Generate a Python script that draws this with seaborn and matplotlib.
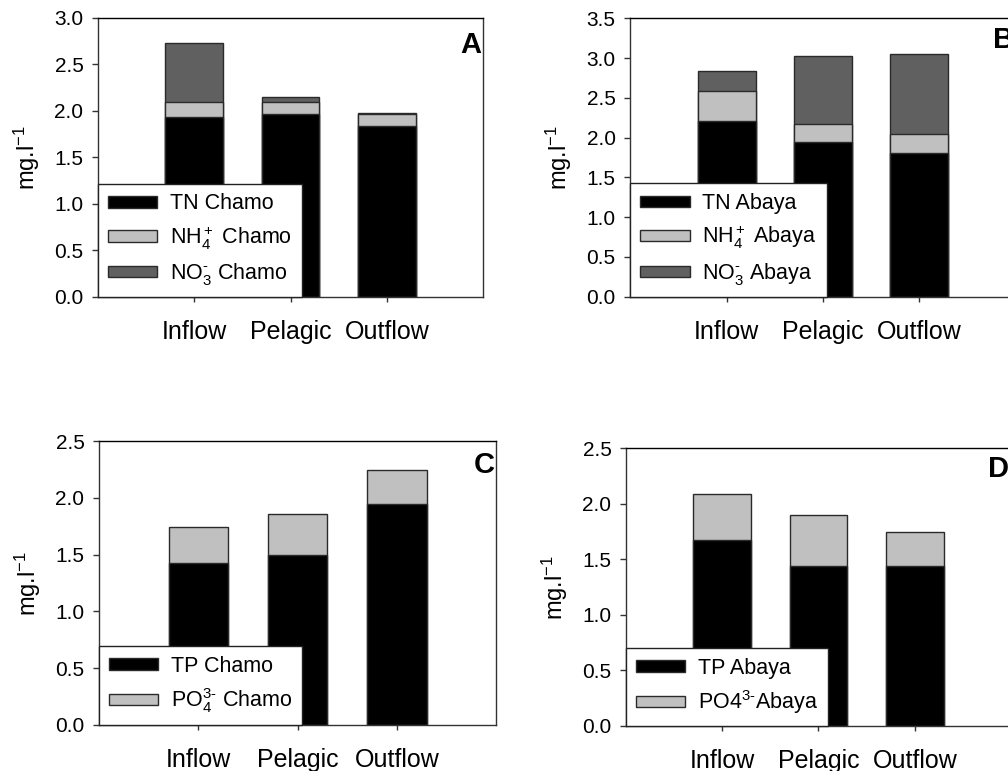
import matplotlib
matplotlib.use("Agg")
import matplotlib.pyplot as plt
from matplotlib.patches import Patch
import seaborn as sns

# Sampling sites along the lake transect
sites = ["Inflow", "Pelagic", "Outflow"]

# Nitrogen fractions (mg/l), Lake Chamo
tn_chamo = [1.94, 1.97, 1.84]
nh4_chamo = [0.16, 0.13, 0.125]
no3_chamo = [0.63, 0.05, 0.015]

# Nitrogen fractions (mg/l), Lake Abaya
tn_abaya = [2.21, 1.94, 1.81]
nh4_abaya = [0.38, 0.225, 0.23]
no3_abaya = [0.245, 0.855, 1.01]

# Phosphorus fractions (mg/l)
tp_chamo = [1.425, 1.495, 1.95]
po4_chamo = [0.317, 0.367, 0.30]
tp_abaya = [1.674, 1.44, 1.44]
po4_abaya = [0.41, 0.456, 0.303]

sns.set_style("ticks")
plt.rcParams["font.family"] = ["Liberation Sans", "DejaVu Sans"]
plt.rcParams["mathtext.fontset"] = "custom"
plt.rcParams["mathtext.rm"] = "Liberation Sans"
plt.rcParams["mathtext.it"] = "Liberation Sans:italic"
plt.rcParams["mathtext.bf"] = "Liberation Sans:bold"
plt.rcParams["text.color"] = "black"
plt.rcParams["axes.labelcolor"] = "black"
plt.rcParams["xtick.color"] = "black"
plt.rcParams["ytick.color"] = "black"

BLACK = "#000000"
LIGHT = "#c0c0c0"
DARK = "#606060"
EDGE = "#2a2a2a"
SPINE = "#333333"

fig = plt.figure(figsize=(10.08, 7.71), dpi=100)

# axes rectangles in figure fractions
positions = {
    "A": [0.0972, 0.6148, 0.3820, 0.3619],
    "B": [0.6253, 0.6152, 0.3823, 0.3611],
    "C": [0.0982, 0.0597, 0.3941, 0.3680],
    "D": [0.6210, 0.0584, 0.3820, 0.3602],
}


def stacked(ax, layers, colors, labels, ymax, letter, letter_y):
    # draw cumulative totals from the tallest down so each segment shows
    cum = []
    running = [0.0] * len(sites)
    for layer in layers:
        running = [r + v for r, v in zip(running, layer)]
        cum.append(list(running))
    for tot, col in zip(reversed(cum), reversed(colors)):
        sns.barplot(x=sites, y=tot, color=col, saturation=1, width=0.6,
                    edgecolor=EDGE, linewidth=1.0, ax=ax, zorder=2)
    n = int(round(ymax / 0.5)) + 1
    ax.set_xlim(-1, 3)
    ax.set_ylim(0, ymax)
    ax.set_yticks([i * 0.5 for i in range(n)])
    ax.set_yticklabels([f"{i * 0.5:.1f}" for i in range(n)])
    ax.set_ylabel("mg.l$^{-1}$", fontsize=17, labelpad=9)
    ax.set_xlabel("")
    ax.tick_params(axis="x", length=3.5, width=1, color=SPINE, labelsize=18,
                   pad=13, labelcolor="black")
    ax.tick_params(axis="y", length=4.5, width=1, color=SPINE, labelsize=15,
                   pad=6, labelcolor="black")
    for side, sp in ax.spines.items():
        sp.set_visible(True)
        sp.set_color(BLACK if side == "top" else SPINE)
        sp.set_linewidth(1.0)
    handles = [Patch(facecolor=c, edgecolor=EDGE, linewidth=1.0) for c in colors]
    leg = ax.legend(handles, labels, loc="lower left", bbox_to_anchor=(0, 0),
                    borderaxespad=0, fancybox=False, framealpha=1,
                    edgecolor="#222222", fontsize=15.5, handlelength=2.3,
                    handleheight=0.45, handletextpad=0.6, labelspacing=0.45,
                    borderpad=0.45, labelcolor="black")
    leg.get_frame().set_linewidth(1.0)
    leg.set_zorder(5)
    ax.text(0.996, letter_y, letter, transform=ax.transAxes, ha="right",
            va="top", fontsize=21, fontweight="bold", color="black")


axA = fig.add_axes(positions["A"])
stacked(axA, [tn_chamo, nh4_chamo, no3_chamo], [BLACK, LIGHT, DARK],
        ["TN Chamo", "NH$_4^+$ Chamo", r"NO$_3^{\text{-}}$ Chamo"], 3.0, "A", 0.955)

axB = fig.add_axes(positions["B"])
stacked(axB, [tn_abaya, nh4_abaya, no3_abaya], [BLACK, LIGHT, DARK],
        ["TN Abaya", "NH$_4^+$ Abaya", r"NO$_3^{\text{-}}$ Abaya"], 3.5, "B", 0.974)

axC = fig.add_axes(positions["C"])
stacked(axC, [tp_chamo, po4_chamo], [BLACK, LIGHT],
        ["TP Chamo", r"PO$_4^{3\text{-}}$ Chamo"], 2.5, "C", 0.964)

axD = fig.add_axes(positions["D"])
stacked(axD, [tp_abaya, po4_abaya], [BLACK, LIGHT],
        ["TP Abaya", r"PO4$^{3\text{-}}$Abaya"], 2.5, "D", 0.975)

fig.savefig("out.png", dpi=100)
